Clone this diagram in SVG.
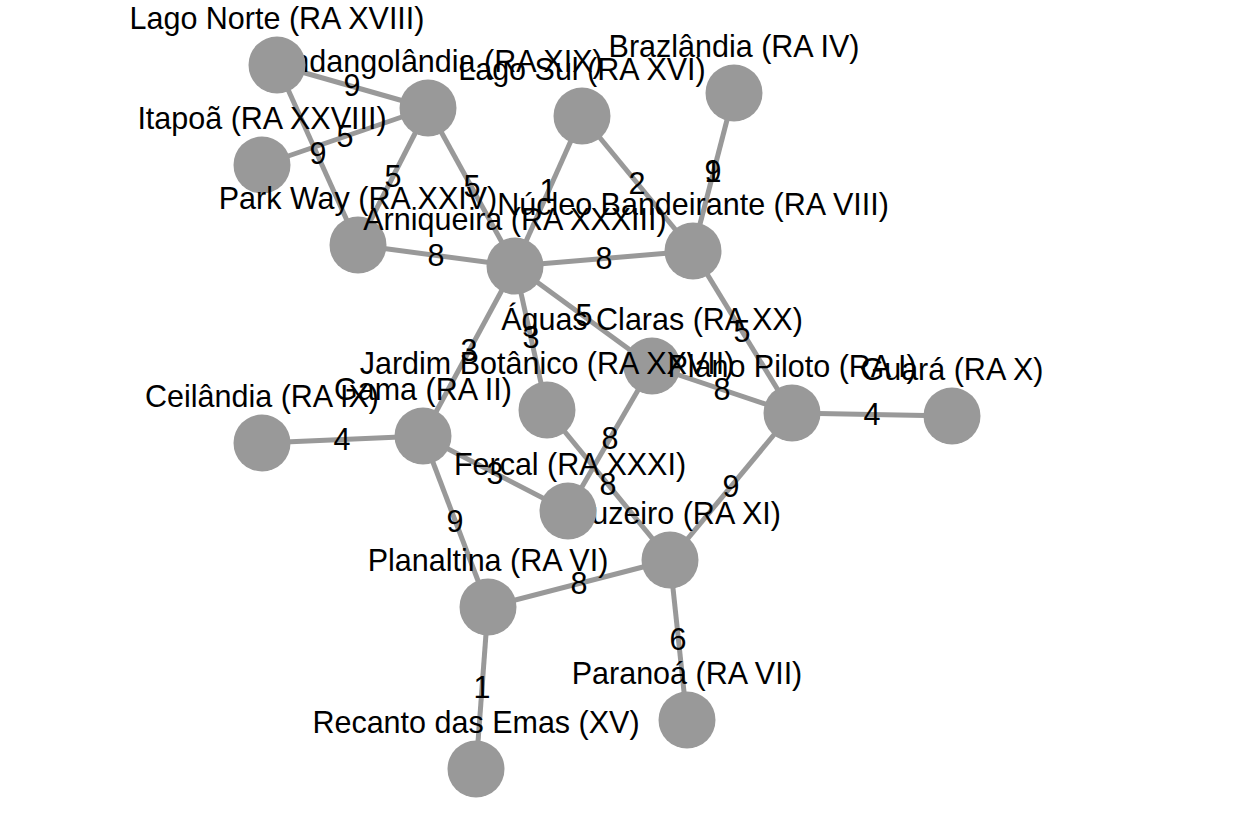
<svg xmlns="http://www.w3.org/2000/svg" width="1246" height="840" viewBox="0 0 1246 840">
<style>
.e{stroke:#999;stroke-width:5;fill:none}
.n{fill:#999}
text{font-family:"Liberation Sans",Arial,sans-serif;font-size:30.5px;fill:#000;text-anchor:middle}
</style>
<rect width="1246" height="840" fill="#fff"/>
<g id="connectors">
<line class="e" x1="277" y1="65" x2="428" y2="108"/>
<line class="e" x1="277" y1="65" x2="358" y2="245"/>
<line class="e" x1="262" y1="165" x2="428" y2="108"/>
<line class="e" x1="428" y1="108" x2="358" y2="245"/>
<line class="e" x1="428" y1="108" x2="515" y2="266"/>
<line class="e" x1="582" y1="116" x2="515" y2="266"/>
<line class="e" x1="582" y1="116" x2="693" y2="251"/>
<line class="e" x1="734" y1="93" x2="693" y2="251"/>
<line class="e" x1="358" y1="245" x2="515" y2="266"/>
<line class="e" x1="515" y1="266" x2="693" y2="251"/>
<line class="e" x1="515" y1="266" x2="652" y2="366"/>
<line class="e" x1="652" y1="366" x2="792" y2="413"/>
<line class="e" x1="515" y1="266" x2="547" y2="410"/>
<line class="e" x1="515" y1="266" x2="423" y2="436"/>
<line class="e" x1="693" y1="251" x2="792" y2="413"/>
<line class="e" x1="792" y1="413" x2="952" y2="416"/>
<line class="e" x1="792" y1="413" x2="670" y2="560"/>
<line class="e" x1="652" y1="366" x2="568" y2="511"/>
<line class="e" x1="547" y1="410" x2="670" y2="560"/>
<line class="e" x1="262" y1="443" x2="423" y2="436"/>
<line class="e" x1="423" y1="436" x2="568" y2="511"/>
<line class="e" x1="423" y1="436" x2="488" y2="607"/>
<line class="e" x1="488" y1="607" x2="670" y2="560"/>
<line class="e" x1="670" y1="560" x2="687" y2="720"/>
<line class="e" x1="488" y1="607" x2="476" y2="769"/>
<text x="352" y="96">9</text>
<text x="318" y="164">9</text>
<text x="345" y="147">5</text>
<text x="393" y="187">5</text>
<text x="472" y="197">5</text>
<text x="548" y="201">1</text>
<text x="637" y="194">2</text>
<text x="713" y="182">9</text>
<text x="713" y="182">1</text>
<text x="436" y="266">8</text>
<text x="604" y="269">8</text>
<text x="584" y="326">5</text>
<text x="722" y="400">8</text>
<text x="531" y="348">3</text>
<text x="469" y="361">3</text>
<text x="742" y="342">5</text>
<text x="872" y="425">4</text>
<text x="731" y="497">9</text>
<text x="610" y="449">8</text>
<text x="608" y="495">8</text>
<text x="342" y="450">4</text>
<text x="495" y="484">3</text>
<text x="455" y="532">9</text>
<text x="579" y="594">8</text>
<text x="678" y="650">6</text>
<text x="482" y="698">1</text>
</g>
<g id="candangolandia"><circle class="n" cx="428" cy="108" r="28.5"/><text x="428" y="72">Candangolândia (RA XIX)</text></g>
<g id="lago-norte"><circle class="n" cx="277" cy="65" r="28.5"/><text x="277" y="29">Lago Norte (RA XVIII)</text></g>
<g id="lago-sul"><circle class="n" cx="582" cy="116" r="28.5"/><text x="582" y="80">Lago Sul (RA XVI)</text></g>
<g id="brazlandia"><circle class="n" cx="734" cy="93" r="28.5"/><text x="734" y="57">Brazlândia (RA IV)</text></g>
<g id="itapoa"><circle class="n" cx="262" cy="165" r="28.5"/><text x="262" y="129">Itapoã (RA XXVIII)</text></g>
<g id="park-way"><circle class="n" cx="358" cy="245" r="28.5"/><text x="358" y="209">Park Way (RA XXIV)</text></g>
<g id="arniqueira"><circle class="n" cx="515" cy="266" r="28.5"/><text x="515" y="230">Arniqueira (RA XXXIII)</text></g>
<g id="nucleo-bandeirante"><circle class="n" cx="693" cy="251" r="28.5"/><text x="693" y="215">Núcleo Bandeirante (RA VIII)</text></g>
<g id="aguas-claras"><circle class="n" cx="652" cy="366" r="28.5"/><text x="652" y="330">Águas Claras (RA XX)</text></g>
<g id="jardim-botanico"><circle class="n" cx="547" cy="410" r="28.5"/><text x="547" y="374">Jardim Botânico (RA XXVII)</text></g>
<g id="plano-piloto"><circle class="n" cx="792" cy="413" r="28.5"/><text x="792" y="377">Plano Piloto (RA I)</text></g>
<g id="guara"><circle class="n" cx="952" cy="416" r="28.5"/><text x="952" y="380">Guará (RA X)</text></g>
<g id="ceilandia"><circle class="n" cx="262" cy="443" r="28.5"/><text x="262" y="407">Ceilândia (RA IX)</text></g>
<g id="gama"><circle class="n" cx="423" cy="436" r="28.5"/><text x="423" y="400">Gama (RA II)</text></g>
<g id="cruzeiro"><circle class="n" cx="670" cy="560" r="28.5"/><text x="670" y="524">Cruzeiro (RA XI)</text></g>
<g id="fercal"><circle class="n" cx="568" cy="511" r="28.5"/><text x="570" y="475">Fercal (RA XXXI)</text></g>
<g id="planaltina"><circle class="n" cx="488" cy="607" r="28.5"/><text x="488" y="571">Planaltina (RA VI)</text></g>
<g id="paranoa"><circle class="n" cx="687" cy="720" r="28.5"/><text x="687" y="684">Paranoá (RA VII)</text></g>
<g id="recanto"><circle class="n" cx="476" cy="769" r="28.5"/><text x="476" y="733">Recanto das Emas (XV)</text></g>
</svg>
